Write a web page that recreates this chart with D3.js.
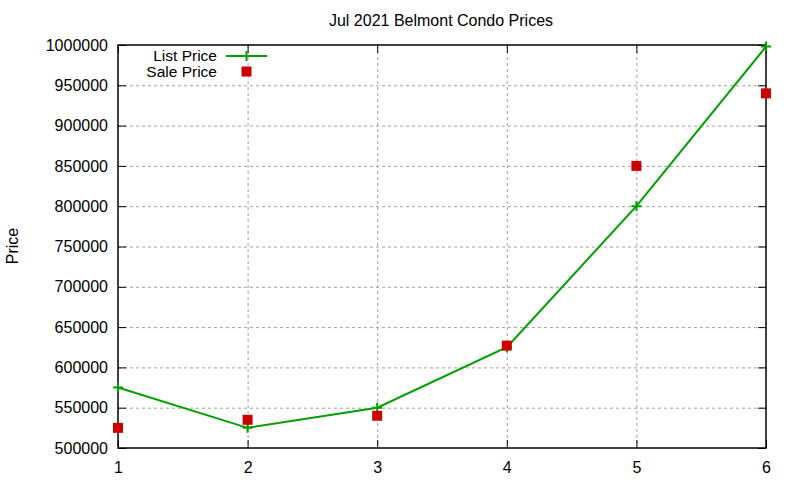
<!DOCTYPE html>
<html>
<head>
<meta charset="utf-8">
<script src="https://cdn.jsdelivr.net/npm/d3@7"></script>
<style>
  body { margin: 0; background: #fff; }
  svg { font-family: "Liberation Sans", Arial, sans-serif; }
  .grid line { stroke: #a0a0a0; stroke-dasharray: 3,3; stroke-width: 1; }
  .tick-label { font-size: 16px; fill: #000; }
</style>
</head>
<body>
<svg id="chart" width="800" height="480"></svg>
<script>
// Data
const months = [1, 2, 3, 4, 5, 6];
const listPrice = [575000, 525000, 550000, 625000, 800000, 998000];
const salePrice = [525000, 535000, 540000, 627000, 850000, 940000];
const yTicks = [500000, 550000, 600000, 650000, 700000, 750000, 800000, 850000, 900000, 950000, 1000000];

const svg = d3.select('#chart');
const m = { left: 118, right: 766, top: 45, bottom: 448 };

const x = d3.scaleLinear().domain([1, 6]).range([m.left, m.right]);
const y = d3.scaleLinear().domain([500000, 1000000]).range([m.bottom, m.top]);

const green = '#00a000';
const red = '#cc0000';

// Grid
const grid = svg.append('g').attr('class', 'grid');
grid.selectAll('line.h')
  .data(yTicks.slice(1, -1))
  .join('line')
  .attr('x1', m.left).attr('x2', m.right)
  .attr('y1', (d) => y(d) + 0.5).attr('y2', (d) => y(d) + 0.5);
grid.selectAll('line.v')
  .data(months.slice(1, -1))
  .join('line')
  .attr('x1', (d) => x(d) + 0.5).attr('x2', (d) => x(d) + 0.5)
  .attr('y1', m.top).attr('y2', m.bottom);

// Ticks (mirrored, inward) via d3 axes
const tickLen = 8;
svg.append('g')
  .attr('transform', `translate(${m.left},0)`)
  .call(d3.axisLeft(y).tickValues(yTicks).tickSize(-tickLen).tickFormat(d3.format('d')).tickPadding(10))
  .call((g) => g.select('.domain').remove())
  .call((g) => g.selectAll('text').attr('class', 'tick-label').attr('font-family', null).attr('font-size', null))
  .call((g) => g.selectAll('line').attr('stroke', '#000'));
svg.append('g')
  .attr('transform', `translate(${m.right},0)`)
  .call(d3.axisRight(y).tickValues(yTicks).tickSize(-tickLen).tickFormat(''))
  .call((g) => g.select('.domain').remove())
  .call((g) => g.selectAll('line').attr('stroke', '#000'));
svg.append('g')
  .attr('transform', `translate(0,${m.bottom})`)
  .call(d3.axisBottom(x).tickValues(months).tickSize(-tickLen).tickFormat(d3.format('d')).tickPadding(14))
  .call((g) => g.select('.domain').remove())
  .call((g) => g.selectAll('text').attr('class', 'tick-label').attr('font-family', null).attr('font-size', null))
  .call((g) => g.selectAll('line').attr('stroke', '#000'));
svg.append('g')
  .attr('transform', `translate(0,${m.top})`)
  .call(d3.axisTop(x).tickValues(months).tickSize(-tickLen).tickFormat(''))
  .call((g) => g.select('.domain').remove())
  .call((g) => g.selectAll('line').attr('stroke', '#000'));

// Border
svg.append('rect')
  .attr('x', m.left).attr('y', m.top)
  .attr('width', m.right - m.left).attr('height', m.bottom - m.top)
  .attr('fill', 'none').attr('stroke', '#000').attr('stroke-width', 1.5);

// List price line
const line = d3.line().x((d, i) => x(months[i])).y((d) => y(d));
svg.append('path')
  .datum(listPrice)
  .attr('d', line)
  .attr('fill', 'none')
  .attr('stroke', green)
  .attr('stroke-width', 2);

const plus = (sel, cx, cy) => {
  sel.append('path')
    .attr('d', `M${cx - 5},${cy}H${cx + 5}M${cx},${cy - 5}V${cy + 5}`)
    .attr('stroke', green).attr('stroke-width', 2);
};
const pts = svg.append('g');
listPrice.forEach((v, i) => plus(pts, x(months[i]), y(v)));

// Sale price squares
svg.append('g').selectAll('rect')
  .data(salePrice)
  .join('rect')
  .attr('x', (d, i) => x(months[i]) - 5)
  .attr('y', (d) => y(d) - 5)
  .attr('width', 10).attr('height', 10)
  .attr('fill', red);

// Legend
const lg = svg.append('g');
lg.append('text').attr('x', 217).attr('y', 61).attr('text-anchor', 'end')
  .attr('font-size', 15.5).text('List Price');
lg.append('line').attr('x1', 226).attr('x2', 267).attr('y1', 56).attr('y2', 56)
  .attr('stroke', green).attr('stroke-width', 2);
plus(lg, 246.5, 56);
lg.append('text').attr('x', 217).attr('y', 77).attr('text-anchor', 'end')
  .attr('font-size', 15.5).text('Sale Price');
lg.append('rect').attr('x', 241.5).attr('y', 66.5).attr('width', 10).attr('height', 10).attr('fill', red);

// Title and axis label
svg.append('text').attr('x', 441).attr('y', 26).attr('text-anchor', 'middle')
  .attr('font-size', 16).text('Jul 2021 Belmont Condo Prices');
svg.append('text').attr('transform', 'translate(18,246) rotate(-90)')
  .attr('text-anchor', 'middle').attr('font-size', 16).text('Price');
</script>
</body>
</html>
